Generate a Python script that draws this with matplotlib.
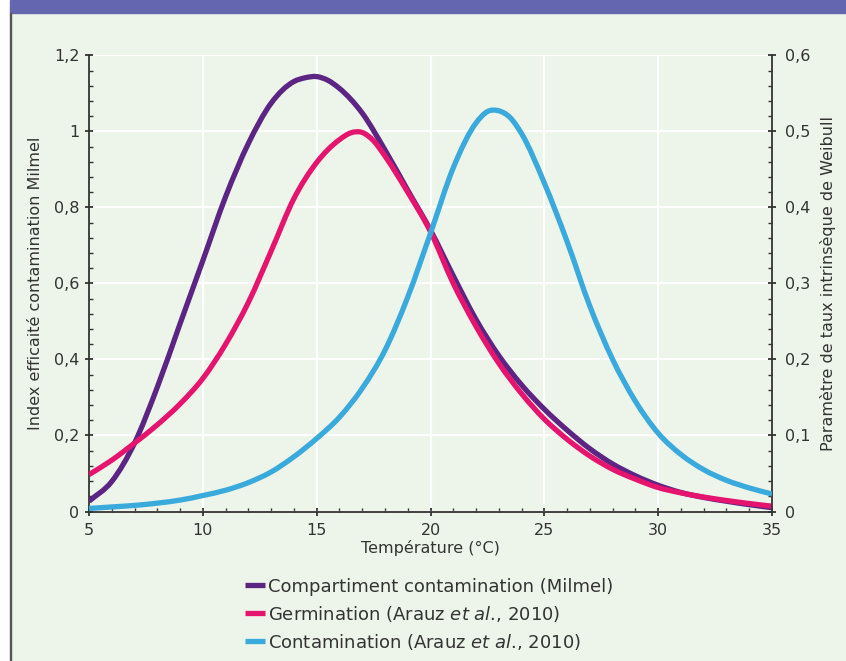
import matplotlib.pyplot as plt
from matplotlib.patches import Rectangle, PathPatch
from matplotlib.path import Path
from matplotlib.lines import Line2D
from matplotlib.ticker import MultipleLocator, FuncFormatter

# valeurs
temp_milmel = [5, 6, 7, 8, 9, 10, 11, 12, 13, 14, 14.5, 15, 15.5, 16, 17, 18, 19, 20,
               21, 22, 23, 24, 25, 26, 27, 28, 29, 30, 31, 32, 33, 34, 35]
milmel = [0.027, 0.079, 0.18, 0.327, 0.494, 0.66, 0.828, 0.968, 1.074, 1.131, 1.141,
          1.144, 1.134, 1.113, 1.048, 0.951, 0.845, 0.740, 0.620, 0.505, 0.41, 0.333,
          0.269, 0.214, 0.165, 0.125, 0.094, 0.069, 0.050, 0.037, 0.027, 0.018, 0.010]

temp_germ = [5, 6, 7, 8, 9, 10, 11, 12, 13, 14, 15, 16, 16.5, 17, 17.5, 18, 19, 20,
             21, 22, 23, 24, 25, 26, 27, 28, 29, 30, 31, 32, 33, 34, 35]
germination = [0.097, 0.135, 0.18, 0.228, 0.283, 0.35, 0.44, 0.55, 0.685, 0.823, 0.918,
               0.978, 0.996, 0.997, 0.975, 0.935, 0.84, 0.736, 0.60, 0.487, 0.39, 0.31,
               0.243, 0.19, 0.146, 0.111, 0.085, 0.063, 0.049, 0.038, 0.029, 0.021, 0.014]

temp_cont = [5, 6, 7, 8, 9, 10, 11, 12, 13, 14, 15, 16, 17, 18, 19, 20, 21, 22, 22.5,
             23, 23.5, 24, 25, 26, 27, 28, 29, 30, 31, 32, 33, 34, 35]
contamination = [0.004, 0.006, 0.008, 0.011, 0.015, 0.021, 0.028, 0.038, 0.052, 0.072,
                 0.096, 0.124, 0.162, 0.212, 0.282, 0.366, 0.452, 0.511, 0.526, 0.527,
                 0.518, 0.497, 0.432, 0.355, 0.27, 0.2, 0.145, 0.103, 0.075, 0.055,
                 0.041, 0.031, 0.023]

labels = ['Compartiment contamination (Milmel)',
          r'Germination (Arauz $\it{et\ al}$., 2010)',
          r'Contamination (Arauz $\it{et\ al}$., 2010)']
colors = ['#5c2483', '#e5156f', '#3aaadc']

plt.rcParams['font.family'] = ['DejaVu Sans']
plt.rcParams['mathtext.fontset'] = 'dejavusans'
txt = '#333333'
bg = '#edf4e9'


def smooth_path(xs, ys):
    # courbe lissée (type "ligne lissée" Excel) passant par les points lus
    n = len(xs)
    sec = [(ys[i + 1] - ys[i]) / (xs[i + 1] - xs[i]) for i in range(n - 1)]
    slopes = [sec[0]]
    for i in range(1, n - 1):
        h0, h1 = xs[i] - xs[i - 1], xs[i + 1] - xs[i]
        slopes.append((h1 * sec[i - 1] + h0 * sec[i]) / (h0 + h1))
    slopes.append(sec[-1])
    verts = [(xs[0], ys[0])]
    codes = [Path.MOVETO]
    for i in range(n - 1):
        h = xs[i + 1] - xs[i]
        verts += [(xs[i] + h / 3, ys[i] + slopes[i] * h / 3),
                  (xs[i + 1] - h / 3, ys[i + 1] - slopes[i + 1] * h / 3),
                  (xs[i + 1], ys[i + 1])]
        codes += [Path.CURVE4] * 3
    return Path(verts, codes)


fig = plt.figure(figsize=(8.46, 6.61), dpi=100, facecolor='white')
W, H = 846, 661
# fond, bandeau et filet gauche
fig.patches.append(Rectangle((11 / W, 0), 1, 1, transform=fig.transFigure, color=bg, zorder=-10))
fig.patches.append(Rectangle((10 / W, 1 - 13 / H), 1, 13 / H, transform=fig.transFigure,
                             color='#6467b0', zorder=-9))
fig.patches.append(Rectangle((9.8 / W, 0), 1.6 / W, 1 - 13 / H, transform=fig.transFigure,
                             color='#555555', zorder=-9))

ax = fig.add_axes([89 / W, 1 - 511.5 / H, (772 - 89) / W, (511.5 - 55.3) / H])
ax.set_facecolor('none')
ax2 = ax.twinx()

lw = 3.8
ax.add_patch(PathPatch(smooth_path(temp_milmel, milmel), fill=False, ec=colors[0], lw=lw,
                       capstyle='butt', zorder=3))
ax.add_patch(PathPatch(smooth_path(temp_germ, germination), fill=False, ec=colors[1], lw=lw,
                       capstyle='butt', zorder=4))
ax2.add_patch(PathPatch(smooth_path(temp_cont, contamination), fill=False, ec=colors[2], lw=lw,
                        capstyle='butt', zorder=3))

ax.set_xlim(5, 35)
ax.set_ylim(0, 1.2)
ax2.set_ylim(0, 0.6)

ax.xaxis.set_major_locator(MultipleLocator(5))
ax.xaxis.set_minor_locator(MultipleLocator(1))
ax.yaxis.set_major_locator(MultipleLocator(0.2))
ax.yaxis.set_minor_locator(MultipleLocator(0.04))
ax2.yaxis.set_major_locator(MultipleLocator(0.1))
ax2.yaxis.set_minor_locator(MultipleLocator(0.02))

comma = FuncFormatter(lambda v, p: ('%g' % round(v, 2)).replace('.', ','))
ax.yaxis.set_major_formatter(comma)
ax2.yaxis.set_major_formatter(comma)

ax.grid(True, which='major', color='white', lw=1.6)
ax.set_axisbelow(True)

for s in ['top', 'right']:
    ax.spines[s].set_visible(False)
for s in ['top', 'left', 'bottom']:
    ax2.spines[s].set_visible(False)
for a, s in [(ax, 'left'), (ax, 'bottom'), (ax2, 'right')]:
    a.spines[s].set_color('#333333')
    a.spines[s].set_linewidth(1.3)

ax.tick_params(axis='x', which='major', direction='inout', length=6, width=1.3,
               colors='#333333', labelcolor=txt, labelsize=11.5, pad=5)
ax.tick_params(axis='x', which='minor', direction='in', length=3, width=1, colors='#333333')
ax.tick_params(axis='y', which='major', direction='inout', length=6, width=1.3,
               colors='#333333', labelcolor=txt, labelsize=11.5, pad=4)
ax.tick_params(axis='y', which='minor', direction='in', length=3, width=1, colors='#333333')
ax2.tick_params(axis='y', which='major', direction='inout', length=6, width=1.3,
                colors='#333333', labelcolor=txt, labelsize=11.5, pad=6.5)
ax2.tick_params(axis='y', which='minor', direction='in', length=3, width=1, colors='#333333')

ax.set_xlabel('Température (°C)', fontsize=11.5, color=txt)
ax.xaxis.set_label_coords(0.5, -0.062)
ax.set_ylabel('Index efficaité contamination Milmel', fontsize=11.5, color=txt)
ax.yaxis.set_label_coords(-0.067, 0.5)
ax2.set_ylabel('Paramètre de taux intrinsèque de Weibull', fontsize=11.5, color=txt)
ax2.yaxis.set_label_coords(1.07, 0.5)

handles = [Line2D([], [], color=c, lw=lw, solid_capstyle='butt') for c in colors]
fig.legend(handles, labels, loc='upper left', bbox_to_anchor=(245 / W, 1 - 577.5 / H),
           frameon=False, fontsize=13, handlelength=1.1, handletextpad=0.2,
           borderpad=0, borderaxespad=0, labelspacing=0.45, labelcolor=txt)

fig.savefig('out.png', dpi=100, facecolor='white')
